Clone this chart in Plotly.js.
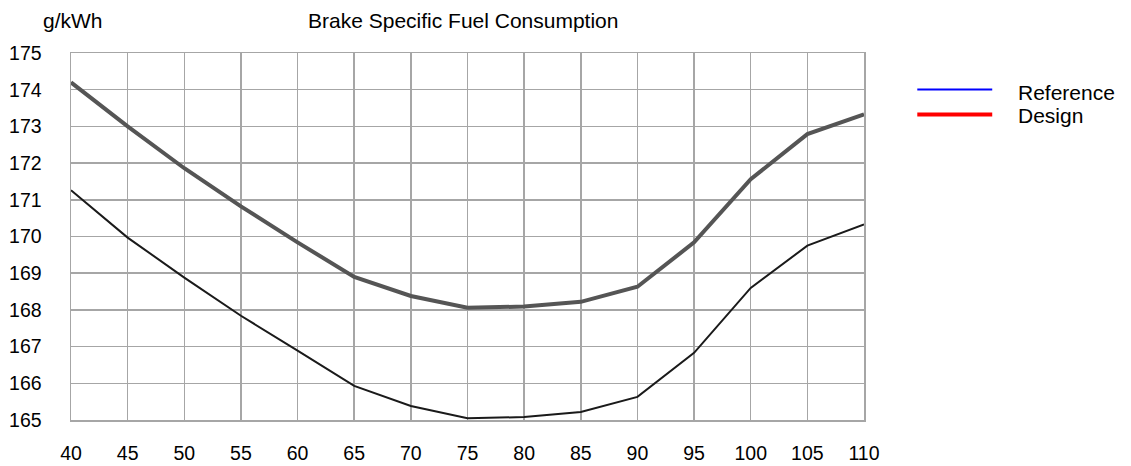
<!DOCTYPE html>
<html>
<head>
<meta charset="utf-8">
<script src="https://cdn.plot.ly/plotly-3.0.1.min.js"></script>
<style>html,body{margin:0;padding:0;background:#fff;}#chart{width:1131px;height:466px;}</style>
</head>
<body>
<div id="chart"></div>
<script>
const loadPct = [40, 45, 50, 55, 60, 65, 70, 75, 80, 85, 90, 95, 100, 105, 110];
const designBsfc = [174.2, 173.0, 171.86, 170.82, 169.84, 168.9, 168.38, 168.06, 168.09, 168.22, 168.63, 169.84, 171.56, 172.79, 173.33];
const referenceBsfc = [171.26, 169.97, 168.88, 167.84, 166.89, 165.93, 165.38, 165.05, 165.08, 165.22, 165.63, 166.83, 168.6, 169.75, 170.33];
const legendNames = ["Reference", "Design"];
const legendColors = ["#0000ff", "#ff0000"];
const xTicks = [40, 45, 50, 55, 60, 65, 70, 75, 80, 85, 90, 95, 100, 105, 110];
const yTicks = [165, 166, 167, 168, 169, 170, 171, 172, 173, 174, 175];

const fam = "Liberation Sans, Arial, sans-serif";
const tickFont = {family: fam, size: 19.5, color: "#000"};
const textFont = {family: fam, size: 21, color: "#000"};
const traces = [
  {x: loadPct, y: designBsfc, type: "scatter", mode: "lines", line: {color: "#555555", width: 4}, showlegend: false, hoverinfo: "skip"},
  {x: loadPct, y: referenceBsfc, type: "scatter", mode: "lines", line: {color: "#1a1a1a", width: 2}, showlegend: false, hoverinfo: "skip"}
];
const gridColor = "#a6a6a6";
const layout = {
  width: 1131, height: 466,
  margin: {l: 71, r: 267, t: 53, b: 46},
  paper_bgcolor: "#fff", plot_bgcolor: "#fff",
  font: tickFont,
  showlegend: false,
  xaxis: {range: [40, 110], tickvals: xTicks, ticktext: xTicks.map(String), showgrid: true, gridcolor: gridColor, gridwidth: 1.5,
          showline: true, linecolor: gridColor, linewidth: 1.5, mirror: true, zeroline: false, ticks: "", ticklabelstandoff: 15, tickfont: tickFont},
  yaxis: {range: [165, 175], tickvals: yTicks, ticktext: yTicks.map(String), showgrid: true, gridcolor: gridColor, gridwidth: 1.5,
          showline: true, linecolor: gridColor, linewidth: 1.5, mirror: true, zeroline: false, ticks: "", ticklabelstandoff: 24, tickfont: tickFont},
  annotations: [
    {text: "Brake Specific Fuel Consumption", xref: "paper", yref: "paper", x: 0.4937, y: 1, yshift: 33, xanchor: "center", yanchor: "middle", showarrow: false, font: {family: fam, size: 21, color: "#000"}},
    {text: "g/kWh", xref: "paper", yref: "paper", x: 0, xshift: 2, y: 1, yshift: 33, xanchor: "center", yanchor: "middle", showarrow: false, font: {family: fam, size: 21, color: "#000"}},
    {text: legendNames[0], xref: "paper", yref: "paper", x: 1, xshift: 152, y: 1, yshift: -39, xanchor: "left", yanchor: "middle", showarrow: false, font: textFont},
    {text: legendNames[1], xref: "paper", yref: "paper", x: 1, xshift: 152, y: 1, yshift: -62, xanchor: "left", yanchor: "middle", showarrow: false, font: textFont}
  ],
  shapes: [
    {type: "line", xref: "paper", yref: "paper", x0: 1.0672, x1: 1.1617, y0: 0.9007, y1: 0.9007, line: {color: legendColors[0], width: 2}},
    {type: "line", xref: "paper", yref: "paper", x0: 1.0672, x1: 1.1617, y0: 0.8324, y1: 0.8324, line: {color: legendColors[1], width: 4}}
  ]
};
Plotly.newPlot("chart", traces, layout, {staticPlot: true, displayModeBar: false});
</script>
</body>
</html>
